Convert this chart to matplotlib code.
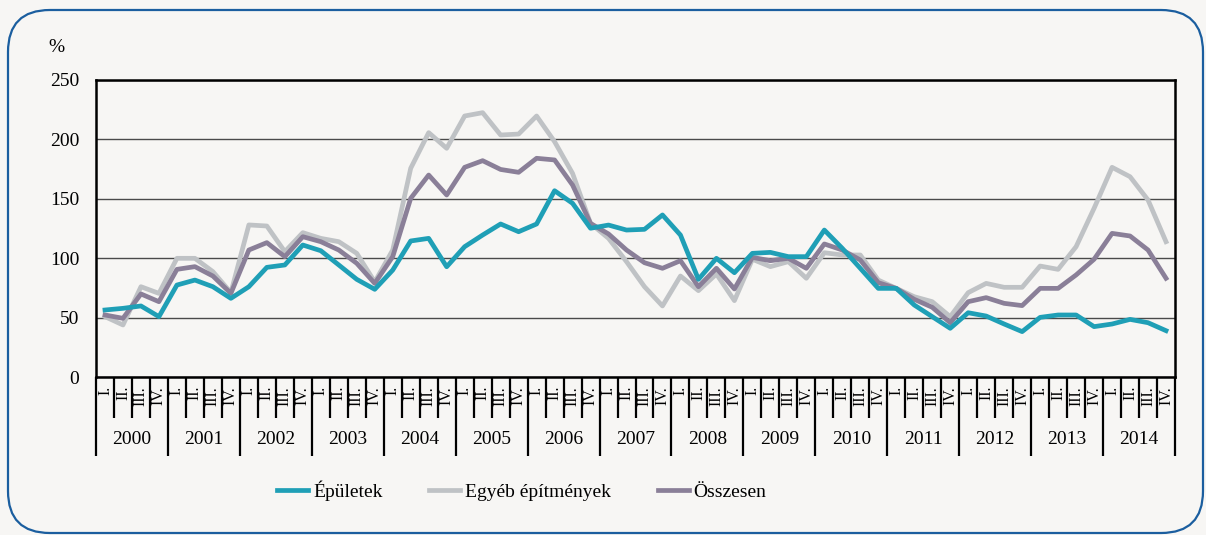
import numpy as np
import matplotlib
matplotlib.use('Agg')
import matplotlib.pyplot as plt
from matplotlib.patches import FancyBboxPatch
from matplotlib.transforms import IdentityTransform, blended_transform_factory

# ADATOK
evek = [str(e) for e in range(2000, 2015)]
negyedevek = ['I.', 'II.', 'III.', 'IV.']

epuletek = [56.4, 57.8, 59.8, 50.8,  77.4, 81.6, 76.0, 66.2,  76.0, 92.3, 94.3, 111.1,
            106.3, 94.3, 82.2, 73.8,  90.0, 114.5, 116.7, 92.8,  109.7, 119.5, 128.8, 122.3,
            128.8, 156.8, 146.2, 125.2,  127.9, 123.7, 124.3, 136.4,  119.5, 82.2, 99.9, 87.8,
            104.1, 104.9, 101.3, 101.3,  123.7, 108.3, 91.5, 74.6,  74.6, 60.6, 50.8, 41.0,
            54.1, 51.3, 44.6, 38.2,  50.2, 52.2, 52.2, 42.4,  44.6, 48.5, 45.7, 39.0]

egyeb = [50.8, 43.8, 76.0, 70.4,  99.9, 99.9, 88.7, 71.0,  128.0, 127.1, 105.5, 121.5,
         116.7, 113.9, 104.1, 80.0,  106.9, 175.7, 205.7, 192.5,  219.7, 222.5, 203.7, 204.5,
         219.7, 198.1, 171.4, 129.3,  116.7, 97.1, 76.0, 59.8,  85.0, 72.7, 86.7, 64.3,
         99.1, 92.9, 97.1, 83.1,  104.6, 102.7, 102.7, 81.6,  74.6, 67.6, 63.4, 50.8,
         71.0, 78.8, 75.5, 75.5,  93.4, 90.6, 109.7, 142.0,  176.5, 168.6, 149.0, 113.9]

osszesen = [52.2, 49.4, 69.9, 63.4,  90.6, 92.9, 85.0, 70.4,  106.9, 113.1, 101.3, 118.1,
            113.9, 106.9, 95.7, 78.8,  101.3, 150.4, 170.0, 153.2,  176.5, 182.1, 174.7, 172.3,
            184.1, 182.7, 161.6, 129.3,  120.4, 106.9, 96.2, 91.5,  97.9, 76.0, 91.5, 74.1,
            100.7, 97.9, 99.9, 91.5,  112.0, 106.9, 98.5, 79.4,  74.6, 65.4, 58.7, 45.7,
            63.4, 66.8, 62.0, 60.1,  74.6, 74.6, 85.9, 99.1,  120.9, 118.7, 106.9, 83.1]

# STILUS
hatter = '#f7f6f4'
c_epul = '#1f9fb6'
c_egyeb = '#bfc2c5'
c_ossz = '#8a7f98'
plt.rcParams['font.family'] = ['Liberation Serif', 'DejaVu Serif']

W, H = 1206, 535
fig = plt.figure(figsize=(W / 100, H / 100), dpi=100, facecolor=hatter)

# lekerekitett keret
keret = FancyBboxPatch((8, 2), 1195, 523, boxstyle='round,pad=0,rounding_size=42',
                       transform=IdentityTransform(), facecolor='none',
                       edgecolor='#1b5e9f', linewidth=1.6)
fig.add_artist(keret)

ax = fig.add_axes([96 / W, 1 - 377 / H, 1079 / W, 297 / H])
ax.set_facecolor(hatter)

n = len(epuletek)
x = np.arange(n) + 0.5
ax.plot(x, egyeb, color=c_egyeb, lw=3.4, zorder=3, label='Egyéb építmények')
ax.plot(x, osszesen, color=c_ossz, lw=3.4, zorder=4, label='Összesen')
ax.plot(x, epuletek, color=c_epul, lw=3.4, zorder=5, label='Épületek')

ax.set_xlim(0, n)
ax.set_ylim(0, 250)
ax.set_yticks(range(0, 251, 50))
ax.yaxis.grid(True, color='#4a4a4a', lw=1.0)
ax.set_axisbelow(True)
ax.set_xticks([])
ax.tick_params(axis='y', length=0, pad=12, labelsize=14)
for s in ax.spines.values():
    s.set_color('black')
    s.set_linewidth(1.8)

fig.text(48 / W, 1 - 48 / H, '%', fontsize=14, va='center', ha='left')

# negyedev- es evfeliratok
tr = blended_transform_factory(ax.transData, ax.transAxes)
for i in range(n):
    ax.text(i + 0.5, -0.03, negyedevek[i % 4], transform=tr, rotation=90,
            ha='center', va='top', fontsize=11.5, clip_on=False)
for k in range(n + 1):
    hossz = -0.266 if k % 4 == 0 else -0.138
    ax.plot([k, k], [0, hossz], transform=tr, color='black', lw=1.6,
            clip_on=False, solid_capstyle='butt')
for j, ev in enumerate(evek):
    ax.text(j * 4 + 2, -0.212, ev, transform=tr, ha='center', va='center',
            fontsize=14, clip_on=False)

# JELMAGYARAZAT
h = ax.get_legend_handles_labels()[0]
fig.legend([h[2], h[0], h[1]], ['Épületek', 'Egyéb építmények', 'Összesen'],
           loc='center left', bbox_to_anchor=(277 / W, 1 - 491 / H), ncol=3,
           frameon=False, fontsize=14, handlelength=1.6, handletextpad=0.25,
           columnspacing=2.4, borderpad=0, borderaxespad=0)

fig.savefig('out.png', dpi=100, facecolor=hatter)
